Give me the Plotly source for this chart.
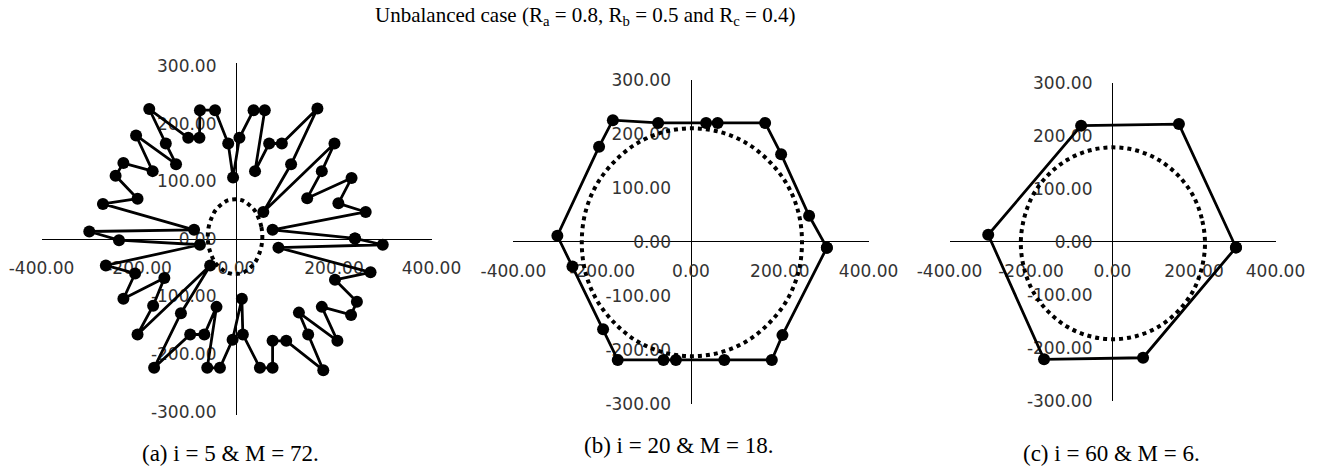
import plotly.graph_objects as go

W, H = 1320, 468

# ---------------- data ----------------
# (a) i = 5, M = 72 : switching-vector trajectory (closed path)
a_x = [243, 74, 265, 209, 236, 145, 175, 201, 55, 112, 166, 93,
       67, 38, 58, 35, 6, -7, -17, -44, -75, -76, -99, -179,
       -145, -124, -206, -172, -232, -248, -203, -274, -87, -302,
       -241, -75, -268, -208, -232, -148, -171, -203, -54, -114, -169, -95,
       -66, -41, -60, -34, -8, 11, 13, 48, 74, 74, 102, 178,
       147, 128, 207, 175, 235, 247, 202, 275, 86, 300, 243]
a_y = [1, 16, 47, 62, 106, 71, 118, 166, 47, 130, 227, 166,
       166, 118, 224, 224, 176, 107, 166, 224, 224, 176, 176, 226,
       166, 130, 180, 118, 132, 110, 70, 61, 16, 13,
       -2, -10, -46, -60, -104, -68, -116, -166, -46, -129, -224, -166,
       -166, -118, -224, -224, -175, -104, -166, -224, -224, -177, -177, -228,
       -166, -128, -177, -118, -132, -109, -71, -58, -15, -10, 1]
# (a) reference locus
a_ref_x = [53, 51, 45, 37, 25, 12, -3, -18, -31, -43, -51, -57, -59,
           -57, -51, -43, -31, -18, -3, 12, 25, 37, 45, 51, 53]
a_ref_y = [4, 21, 37, 50, 60, 67, 69, 67, 60, 50, 37, 21, 4,
           -13, -29, -42, -52, -59, -61, -59, -52, -42, -29, -13, 4]

# (b) i = 20, M = 18
b_x = [306, 266, 203, 167, 60, 34, -74, -176, -207, -301, -267, -198,
       -165, -62, -34, 75, 182, 206, 306]
b_y = [-11, 48, 162, 220, 220, 220, 220, 225, 176, 11, -46, -162,
       -219, -219, -219, -219, -219, -173, -11]
b_ref_x = [250, 242, 217, 177, 126, 66, 2, -62, -122, -173, -213, -238, -246,
           -238, -213, -173, -122, -62, 2, 66, 126, 177, 217, 242, 250]
b_ref_y = [-1, 54, 105, 148, 182, 203, 210, 203, 182, 148, 105, 54, -1,
           -56, -107, -150, -184, -205, -212, -205, -184, -150, -107, -56, -1]

# (c) i = 60, M = 6
c_x = [303, 163, -77, -305, -168, 75, 303]
c_y = [-11, 222, 219, 13, -222, -219, -11]
c_ref_x = [227, 219, 197, 161, 114, 59, 1, -57, -112, -159, -195, -217, -225,
           -217, -195, -159, -112, -57, 1, 59, 114, 161, 197, 219, 227]
c_ref_y = [-3, 44, 88, 125, 154, 172, 178, 172, 154, 125, 88, 44, -3,
           -50, -94, -131, -160, -178, -184, -178, -160, -131, -94, -50, -3]

x_ticks = [-400, -200, 0, 200, 400]
y_ticks = [-300, -200, -100, 0, 100, 200, 300]
x_tick_text = ["-400.00", "-200.00", "0.00", "200.00", "400.00"]
y_tick_text = ["-300.00", "-200.00", "-100.00", "0.00", "100.00", "200.00", "300.00"]

captions = ["(a) i = 5 &amp; M = 72.", "(b) i = 20 &amp; M = 18.", "(c) i = 60 &amp; M = 6."]
title = "Unbalanced case (R<sub>a</sub> = 0.8, R<sub>b</sub> = 0.5 and R<sub>c</sub> = 0.4)"

# ---------------- layout geometry (pixels) ----------------
# each panel: plot-area edges and y half-range
panels = [
    dict(left=41.5, right=431.5, top=63.0, bottom=415.0, yr=306),
    dict(left=513.4, right=868.6, top=79.7, bottom=403.7, yr=300),
    dict(left=949.5, right=1275.5, top=82.7, bottom=400.7, yr=300),
]

tick_font = dict(family="DejaVu Sans", size=17, color="#333333")
serif = "Liberation Serif"

fig = go.Figure()

series = [(a_x, a_y, a_ref_x, a_ref_y), (b_x, b_y, b_ref_x, b_ref_y), (c_x, c_y, c_ref_x, c_ref_y)]

layout = dict(
    width=W, height=H,
    margin=dict(l=0, r=0, t=0, b=0),
    paper_bgcolor="white", plot_bgcolor="rgba(0,0,0,0)",
    showlegend=False,
)

for k, (p, (sx, sy, rx, ry)) in enumerate(zip(panels, series), start=1):
    xa = "x" if k == 1 else f"x{k}"
    ya = "y" if k == 1 else f"y{k}"
    fig.add_trace(go.Scatter(
        x=rx, y=ry, xaxis=xa, yaxis=ya, mode="lines",
        line=dict(color="black", width=4, dash="4px,4px", shape="spline"),
        hoverinfo="skip"))
    fig.add_trace(go.Scatter(
        x=sx, y=sy, xaxis=xa, yaxis=ya, mode="lines+markers",
        line=dict(color="black", width=2.8),
        marker=dict(color="black", size=12),
        hoverinfo="skip"))

    xdom = [p["left"] / W, p["right"] / W]
    ydom = [1 - p["bottom"] / H, 1 - p["top"] / H]
    x0_paper = xdom[0] + (xdom[1] - xdom[0]) * 0.5
    y0_paper = ydom[0] + (ydom[1] - ydom[0]) * 0.5

    kx = "xaxis" if k == 1 else f"xaxis{k}"
    ky = "yaxis" if k == 1 else f"yaxis{k}"
    layout[kx] = dict(
        domain=xdom, range=[-400, 400], anchor="free", position=y0_paper,
        showgrid=False, zeroline=True, zerolinecolor="black", zerolinewidth=1.4,
        showline=False, ticks="", tickvals=x_ticks, ticktext=x_tick_text,
        tickfont=tick_font, ticklabelstandoff=17, layer="below traces",
        fixedrange=True, automargin=False)
    layout[ky] = dict(
        domain=ydom, range=[-p["yr"], p["yr"]], anchor="free", position=x0_paper,
        showgrid=False, zeroline=True, zerolinecolor="black", zerolinewidth=1.4,
        showline=False, ticks="", tickvals=y_ticks, ticktext=y_tick_text,
        tickfont=tick_font, ticklabelstandoff=20, layer="below traces",
        fixedrange=True, automargin=False)

fig.update_layout(**layout)

fig.add_annotation(text=title, x=585 / W, y=1 - 16 / H, xref="paper", yref="paper",
                   xanchor="center", yanchor="middle", showarrow=False,
                   font=dict(family=serif, size=21, color="black"))

cap_pos = [(140, 453), (582, 445), (1021, 453)]
for txt, (cx, cy) in zip(captions, cap_pos):
    fig.add_annotation(text=txt, x=cx / W, y=1 - cy / H, xref="paper", yref="paper",
                       xanchor="left", yanchor="middle", showarrow=False,
                       font=dict(family=serif, size=23, color="black"))

fig.write_html("out.html")
